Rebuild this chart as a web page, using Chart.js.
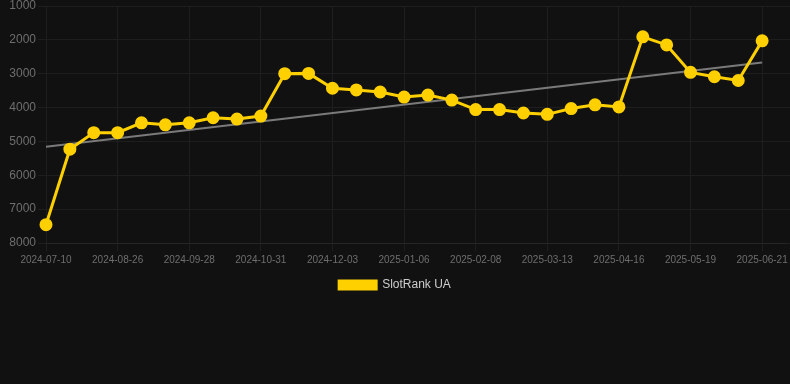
<!DOCTYPE html>
<html lang="en">
<head>
  <meta charset="UTF-8">
  <title>SlotRank UA</title>
  <script src="https://cdn.jsdelivr.net/npm/chart.js@4"></script>
  <style>
    html, body {
      margin: 0;
      padding: 0;
      background-color: #111111;
    }

    #wrap {
      position: relative;
      width: 790px;
      height: 301px;
    }
  </style>
</head>
<body>
  <div id="wrap">
    <canvas id="chart"></canvas>
  </div>

  <script>
    // dates (x axis), one per sample, last one has no value
    const dates = [
      '2024-07-10', '2024-07-26', '2024-08-11', '2024-08-26', '2024-09-06', '2024-09-17',
      '2024-09-28', '2024-10-09', '2024-10-20', '2024-10-31', '2024-11-11', '2024-11-22',
      '2024-12-03', '2024-12-14', '2024-12-25', '2025-01-06', '2025-01-17', '2025-01-28',
      '2025-02-08', '2025-02-19', '2025-03-02', '2025-03-13', '2025-03-24', '2025-04-05',
      '2025-04-16', '2025-04-27', '2025-05-08', '2025-05-19', '2025-05-30', '2025-06-10',
      '2025-06-21', '2025-07-02'
    ];

    // rank values
    const rankUA = [
      7460, 5230, 4740, 4740, 4450, 4510, 4450, 4300, 4340, 4250,
      3000, 2990, 3430, 3480, 3540, 3690, 3630, 3780, 4060, 4060,
      4160, 4200, 4030, 3920, 3980, 1910, 2150, 2960, 3090, 3200,
      2030
    ];

    // trend line ends (first and last sample)
    const trendStart = 5160;
    const trendEnd = 2670;
    const trendLastIndex = rankUA.length - 1;

    const yTicks = [1000, 2000, 3000, 4000, 5000, 6000, 7000, 8000];

    const trend = dates.map((d, i) => {
      if (i === 0) return trendStart;
      if (i === trendLastIndex) return trendEnd;
      return null;
    });

    const font = 'Arial, "Liberation Sans", sans-serif';
    const gridColor = '#1e1e1e';
    const tickColor = '#6e6e6e';

    const ctx = document.getElementById('chart').getContext('2d');
    new Chart(ctx, {
      type: 'line',
      data: {
        labels: dates,
        datasets: [
          {
            label: 'SlotRank UA',
            data: rankUA,
            borderColor: '#ffd000',
            backgroundColor: '#ffd000',
            borderWidth: 3,
            pointRadius: 5,
            pointHoverRadius: 5,
            tension: 0
          },
          {
            label: 'trend',
            data: trend,
            borderColor: '#7a7a7a',
            backgroundColor: '#7a7a7a',
            borderWidth: 2,
            pointRadius: 0,
            spanGaps: true
          }
        ]
      },
      options: {
        responsive: true,
        maintainAspectRatio: false,
        animation: false,
        layout: { autoPadding: false },
        plugins: {
          legend: {
            position: 'bottom',
            labels: {
              color: '#cccccc',
              boxWidth: 37,
              boxHeight: 8,
              font: { size: 12, family: font },
              filter: (item) => item.datasetIndex === 0
            }
          },
          tooltip: { enabled: false }
        },
        scales: {
          x: {
            grid: { color: gridColor },
            border: { color: '#262626' },
            afterFit: (axis) => { axis.paddingRight = 4; },
            ticks: {
              color: tickColor,
              font: { size: 10, family: font },
              maxRotation: 0,
              autoSkip: true,
              maxTicksLimit: 11
            }
          },
          y: {
            reverse: true,
            min: yTicks[0],
            max: yTicks[yTicks.length - 1],
            grid: { color: gridColor },
            border: { display: false },
            afterBuildTicks: (axis) => {
              axis.ticks = yTicks.map(v => ({ value: v }));
            },
            afterFit: (axis) => {
              axis.width = 46;
              axis.paddingTop = 6;
            },
            ticks: {
              color: tickColor,
              padding: 2,
              font: { size: 12, family: font },
              callback: (v) => String(v)
            }
          },
          // right side: only short tick marks so the grid lines reach the edge
          y2: {
            position: 'right',
            reverse: true,
            min: yTicks[0],
            max: yTicks[yTicks.length - 1],
            afterBuildTicks: (axis) => {
              axis.ticks = yTicks.map(v => ({ value: v }));
            },
            grid: { color: gridColor, drawOnChartArea: false, tickLength: 4 },
            border: { display: false },
            ticks: { display: false }
          }
        }
      }
    });
  </script>
</body>
</html>
